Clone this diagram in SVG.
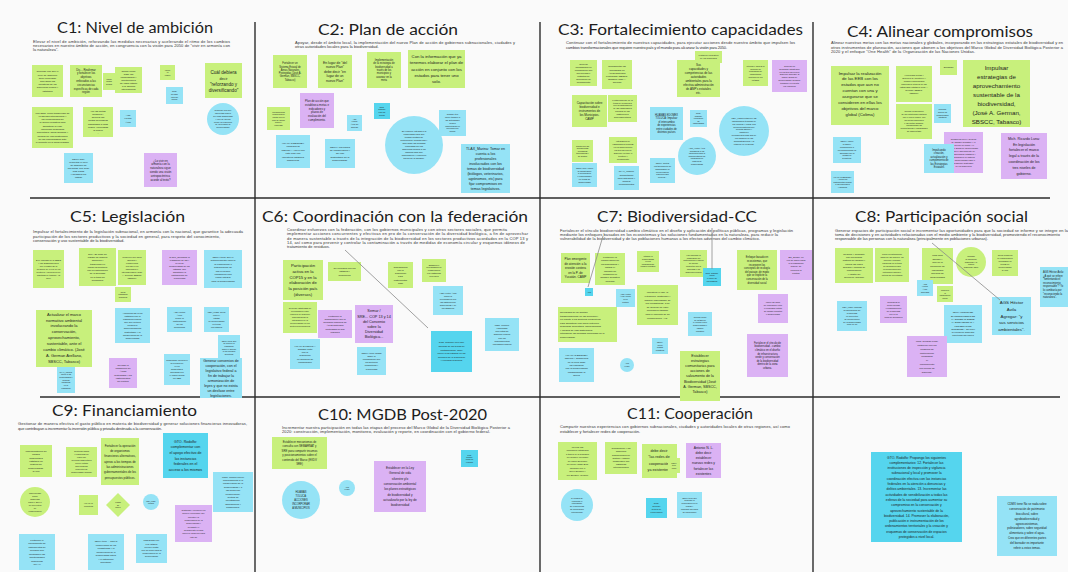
<svg xmlns="http://www.w3.org/2000/svg" width="1068" height="572" viewBox="0 0 1068 572">
<style>
.bg{fill:#fafafa}
.fr{stroke:#2b2b2b;stroke-width:1.4;fill:none}
.g{fill:#c8f07c}
.c{fill:#95e3f6}
.cd{fill:#55d5ee}
.p{fill:#dbb2f4}
.t{font-family:Lato,"Open Sans","Liberation Sans",sans-serif;font-size:16px;fill:#1d1d1d}
.d{font-family:"Liberation Sans",Arial,sans-serif;font-size:4px;fill:#333}
text.s{font-family:"Liberation Sans",Arial,sans-serif;fill:#1d1d1d;text-anchor:middle}
.cn{stroke:#8a8a8a;stroke-width:0.8;fill:none}
</style>
<rect class="bg" x="0" y="0" width="1068" height="572"/>
<g id="frames">
<line class="fr" x1="30" y1="198" x2="1050" y2="198"/>
<line class="fr" x1="40" y1="397" x2="1060" y2="397"/>
<line class="fr" x1="255" y1="22" x2="255" y2="572"/>
<line class="fr" x1="540" y1="22" x2="540" y2="572"/>
<line class="fr" x1="813" y1="22" x2="813" y2="572"/>
</g>

<g id="C1">
<text class="t" x="57" y="33" textLength="156" lengthAdjust="spacingAndGlyphs">C1: Nivel de ambición</text>
<text class="d"><tspan x="33" y="43" textLength="197">Elevar el nivel de ambición, reforzando las medidas necesarias y acelerando el ritmo de los cambios</tspan><tspan x="33" y="47" textLength="197">necesarios en nuestro ámbito de acción, en congruencia con la visión para 2050 de "vivir en armonía con</tspan><tspan x="33" y="51">la naturaleza".</tspan></text>
<g id="c1-n1"><rect class="g" x="32" y="65" width="31" height="32"/><text class="s" font-size="2.5"><tspan x="47.5" y="72.3">Coincido con que el</tspan><tspan x="47.5" dy="3.2">nivel de ambición</tspan><tspan x="47.5" dy="3.2">debe reforzarse</tspan><tspan x="47.5" dy="3.2">apoyando las</tspan><tspan x="47.5" dy="3.2">iniciativas de los</tspan><tspan x="47.5" dy="3.2">gobiernos locales y</tspan><tspan x="47.5" dy="3.2">estatales</tspan></text></g>
<g id="c1-n2"><rect class="g" x="70" y="65" width="32" height="32"/><text class="s" font-size="2.8"><tspan x="86" y="70.6">Dic... Reafirmar</tspan><tspan x="86" dy="3.8">y fortalecer los</tspan><tspan x="86" dy="3.8">objetivos</tspan><tspan x="86" dy="3.8">enfocados a las</tspan><tspan x="86" dy="3.8">circunstancias</tspan><tspan x="86" dy="3.8">específicas de cada</tspan><tspan x="86" dy="3.8">región</tspan></text></g>
<g id="c1-n3"><rect class="g" x="103" y="73" width="12" height="17"/><text class="s" font-size="2"><tspan x="109" y="79.6">Incluir</tspan><tspan x="109" dy="2.6">metas</tspan><tspan x="109" dy="2.6">locales</tspan></text></g>
<g id="c1-n4"><rect class="g" x="115" y="67" width="27" height="26"/><text class="s" font-size="2.5"><tspan x="128.5" y="71.6">Tomar como</tspan><tspan x="128.5" dy="3.1">base las</tspan><tspan x="128.5" dy="3.1">capacidades y</tspan><tspan x="128.5" dy="3.1">aportaciones</tspan><tspan x="128.5" dy="3.1">de cada estado</tspan><tspan x="128.5" dy="3.1">a la agenda</tspan><tspan x="128.5" dy="3.1">internacional</tspan></text></g>
<g id="c1-n5"><rect class="g" x="160" y="65" width="15" height="15"/><text class="s" font-size="2"><tspan x="167.5" y="70.6">Incluir</tspan><tspan x="167.5" dy="2.6">la</tspan><tspan x="167.5" dy="2.6">región</tspan></text></g>
<g id="c1-n6"><rect class="c" x="166" y="87" width="17" height="17"/><text class="s" font-size="2"><tspan x="174.5" y="92.3">GTO:</tspan><tspan x="174.5" dy="2.6">Revisar</tspan><tspan x="174.5" dy="2.6">línea de</tspan><tspan x="174.5" dy="2.6">acción</tspan></text></g>
<g id="c1-n7"><rect class="g" x="205" y="63" width="37" height="35"/><text class="s" font-size="4.6"><tspan x="223.5" y="74">Cuál debiera</tspan><tspan x="223.5" dy="6" font-size="3.6">decir</tspan><tspan x="223.5" dy="6">"reforzando y</tspan><tspan x="223.5" dy="6">diversificando"</tspan></text></g>
<g id="c1-n8"><rect class="g" x="32" y="107" width="41" height="41"/><text class="s" font-size="2.5"><tspan x="52.5" y="113.5">Los ODS, como transversal de</tspan><tspan x="52.5" dy="3.3">la agenda internacional y</tspan><tspan x="52.5" dy="3.3">los compromisos de</tspan><tspan x="52.5" dy="3.3">la acción climática para</tspan><tspan x="52.5" dy="3.3">garantizar la vida.</tspan><tspan x="52.5" dy="3.3">Incorporar seguridad</tspan><tspan x="52.5" dy="3.3">alimentaria, salud humana y</tspan><tspan x="52.5" dy="3.3">medios de vida sostenibles</tspan><tspan x="52.5" dy="3.3">de las comunidades ante</tspan><tspan x="52.5" dy="3.3">el impacto en la biodiversidad.</tspan></text></g>
<g id="c1-n9"><rect class="g" x="83" y="107" width="30" height="30"/><text class="s" font-size="2.5"><tspan x="98" y="111.7">Ver las metas</tspan><tspan x="98" dy="3.2">globales y</tspan><tspan x="98" dy="3.2">generar las</tspan><tspan x="98" dy="3.2">metas necesarias</tspan><tspan x="98" dy="3.2">adaptadas a cada</tspan><tspan x="98" dy="3.2">región, vinculadas</tspan><tspan x="98" dy="3.2">al marco</tspan><tspan x="98" dy="3.2">...</tspan></text></g>
<g id="c1-n10"><rect class="c" x="120" y="110" width="16" height="17"/><text class="s" font-size="2.5"><tspan x="128" y="116.3">Ags</tspan><tspan x="128" dy="3.1">Héctor</tspan><tspan x="128" dy="3.1">Ávila</tspan></text></g>
<g id="c1-n11"><circle class="c" cx="223" cy="119" r="16"/><text class="s" font-size="2.2"><tspan x="223" y="111.4">Coincido con que</tspan><tspan x="223" dy="2.8">las metas deben</tspan><tspan x="223" dy="2.8">ser más ambiciosas</tspan><tspan x="223" dy="2.8">y que se pueda</tspan><tspan x="223" dy="2.8">medir la reducción</tspan><tspan x="223" dy="2.8">de la pérdida de</tspan><tspan x="223" dy="2.8">biodiversidad</tspan></text></g>
<g id="c1-n12"><rect class="c" x="64" y="153" width="29" height="30"/><text class="s" font-size="2.4"><tspan x="78.5" y="159.5">CDMX dice:</tspan><tspan x="78.5" dy="3.1">reorientar el nivel</tspan><tspan x="78.5" dy="3.1">de ambición de</tspan><tspan x="78.5" dy="3.1">las metas, que sean</tspan><tspan x="78.5" dy="3.1">más claras</tspan><tspan x="78.5" dy="3.1">y medibles por</tspan><tspan x="78.5" dy="3.1">estado</tspan></text></g>
<g id="c1-n13"><rect class="p" x="144" y="153" width="33" height="34"/><text class="s" font-size="2.8"><tspan x="160.5" y="161.5">¿Lo vivir en</tspan><tspan x="160.5" dy="3.8">armonía con la</tspan><tspan x="160.5" dy="3.8">naturaleza sigue</tspan><tspan x="160.5" dy="3.8">siendo una visión</tspan><tspan x="160.5" dy="3.8">antropocéntrica</tspan><tspan x="160.5" dy="3.8">acorde al texto?</tspan></text></g>
</g>

<g id="C2">
<text class="t" x="318" y="35" textLength="140" lengthAdjust="spacingAndGlyphs">C2: Plan de acción</text>
<text class="d"><tspan x="295" y="44" textLength="220">Apoyar, desde el ámbito local, la implementación del nuevo Plan de acción de gobiernos subnacionales, ciudades y</tspan><tspan x="295" y="48">otras autoridades locales para la biodiversidad.</tspan></text>
<g id="c2-n1"><rect class="g" x="273" y="55" width="34" height="33"/><text class="s" font-size="2.6"><tspan x="290" y="64.2">Fortalecer un</tspan><tspan x="290" dy="3.3">Sistema Estatal de</tspan><tspan x="290" dy="3.3">Áreas Naturales</tspan><tspan x="290" dy="3.3">Protegidas (José A.</tspan><tspan x="290" dy="3.3">German, SBSCC,</tspan><tspan x="290" dy="3.3">Tabasco)</tspan></text></g>
<g id="c2-n2"><rect class="g" x="318" y="55" width="34" height="33"/><text class="s" font-size="3.4"><tspan x="335" y="63.5">En lugar de "del</tspan><tspan x="335" dy="4.6">nuevo Plan"</tspan><tspan x="335" dy="4.6">debe decir "en</tspan><tspan x="335" dy="4.6">lugar de un</tspan><tspan x="335" dy="4.6">nuevo Plan"</tspan></text></g>
<g id="c2-n3"><rect class="g" x="367" y="52" width="34" height="36"/><text class="s" font-size="2.6"><tspan x="384" y="60.7">Implementación</tspan><tspan x="384" dy="3.4">de la estrategia de</tspan><tspan x="384" dy="3.4">biodiversidad a</tspan><tspan x="384" dy="3.4">través de los</tspan><tspan x="384" dy="3.4">municipios y</tspan><tspan x="384" dy="3.4">avanzar en la</tspan><tspan x="384" dy="3.4">meta</tspan></text></g>
<g id="c2-n4"><rect class="g" x="408" y="50" width="57" height="38"/><text class="s" font-size="4.3"><tspan x="436.5" y="58">Con la información que ya</tspan><tspan x="436.5" dy="6.3">tenemos elaborar el plan de</tspan><tspan x="436.5" dy="6.3">acción en conjunto con los</tspan><tspan x="436.5" dy="6.3">estados para tener uno</tspan><tspan x="436.5" dy="6.3">solo.</tspan></text></g>
<g id="c2-n5"><rect class="g" x="267" y="107" width="23" height="23"/><text class="s" font-size="2"><tspan x="278.5" y="112.7">Los gobiernos</tspan><tspan x="278.5" dy="2.6">locales deben</tspan><tspan x="278.5" dy="2.6">contar con un</tspan><tspan x="278.5" dy="2.6">plan de acción</tspan><tspan x="278.5" dy="2.6">propio y</tspan><tspan x="278.5" dy="2.6">vinculado</tspan></text></g>
<g id="c2-n6"><rect class="p" x="300" y="93" width="34" height="35"/><text class="s" font-size="2.8"><tspan x="317" y="102.3">Plan de acción que</tspan><tspan x="317" dy="3.7">establezca metas e</tspan><tspan x="317" dy="3.7">indicadores y</tspan><tspan x="317" dy="3.7">plazos de</tspan><tspan x="317" dy="3.7">evaluación del</tspan><tspan x="317" dy="3.7">cumplimiento.</tspan></text></g>
<g id="c2-n7"><rect class="c" x="347" y="115" width="15" height="16"/><text class="s" font-size="2"><tspan x="354.5" y="119.8">Ags</tspan><tspan x="354.5" dy="2.6">Héctor</tspan><tspan x="354.5" dy="2.6">Ávila: de</tspan><tspan x="354.5" dy="2.6">acuerdo</tspan></text></g>
<g id="c2-n8"><rect class="cd" x="374" y="103" width="16" height="16"/><text class="s" font-size="2"><tspan x="382" y="107.8">GTO.</tspan><tspan x="382" dy="2.6">Rodolfo:</tspan><tspan x="382" dy="2.6">Plan de</tspan><tspan x="382" dy="2.6">acción</tspan></text></g>
<g id="c2-n9"><rect class="c" x="276" y="135" width="34" height="33"/><text class="s" font-size="2.5"><tspan x="293" y="143.9">HUAMAS EDOMEX</tspan><tspan x="293" dy="3.4">MUNICIPIO</tspan><tspan x="293" dy="3.4">TOLUCA: Apoyo con</tspan><tspan x="293" dy="3.4">este plan con</tspan><tspan x="293" dy="3.4">incentivos estatales</tspan><tspan x="293" dy="3.4">financieros</tspan></text></g>
<g id="c2-n10"><rect class="c" x="325" y="139" width="30" height="29"/><text class="s" font-size="2.5"><tspan x="340" y="147.6">CDMX: los planes</tspan><tspan x="340" dy="3.4">de conservación y</tspan><tspan x="340" dy="3.4">del uso</tspan><tspan x="340" dy="3.4">sustentable de la</tspan><tspan x="340" dy="3.4">biodiversidad.</tspan></text></g>
<g id="c2-n11"><circle class="c" cx="414" cy="145" r="29"/><text class="s" font-size="2.3"><tspan x="414" y="132.3">Se requiere integrar a la</tspan><tspan x="414" dy="3">comunidad para que</tspan><tspan x="414" dy="3">tengan sentido de</tspan><tspan x="414" dy="3">pertenencia, permitiendo y</tspan><tspan x="414" dy="3">apoyando las medidas</tspan><tspan x="414" dy="3">realizadas por los</tspan><tspan x="414" dy="3">gobiernos locales a los</tspan><tspan x="414" dy="3">mismos para que</tspan><tspan x="414" dy="3">comuniquen y refuercen</tspan><tspan x="414" dy="3">través de la difusión.</tspan></text></g>
<g id="c2-n12"><rect class="c" x="439" y="110" width="27" height="26"/><text class="s" font-size="2.1"><tspan x="452.5" y="115.3">Ciudad: Itzel</tspan><tspan x="452.5" dy="2.8">Incluir también a</tspan><tspan x="452.5" dy="2.8">las autoridades</tspan><tspan x="452.5" dy="2.8">locales</tspan><tspan x="452.5" dy="2.8">comunitarias en</tspan><tspan x="452.5" dy="2.8">los planes de</tspan><tspan x="452.5" dy="2.8">acción</tspan></text></g>
<g id="c2-n13"><rect class="c" x="461" y="144" width="49" height="49"/><text class="s" font-size="3.6"><tspan x="485.5" y="149.8">TLAX_Marina: Tomar en</tspan><tspan x="485.5" dy="5">cuenta a los</tspan><tspan x="485.5" dy="5">profesionales</tspan><tspan x="485.5" dy="5">involucrados con los</tspan><tspan x="485.5" dy="5">temas de biodiversidad</tspan><tspan x="485.5" dy="5">(biólogos, veterinarios,</tspan><tspan x="485.5" dy="5">agrónomos, etc) para</tspan><tspan x="485.5" dy="5">fijar compromisos en</tspan><tspan x="485.5" dy="5">temas legislativos.</tspan></text></g>
</g>

<g id="C3">
<text class="t" x="558" y="35" textLength="245" lengthAdjust="spacingAndGlyphs">C3: Fortalecimiento capacidades</text>
<text class="d"><tspan x="566" y="44" textLength="229">Continuar con el fortalecimiento de nuestras capacidades, para ejecutar acciones desde nuestro ámbito que impulsen los</tspan><tspan x="566" y="49" textLength="161">cambios transformacionales que requiere nuestro país y el mundo para alcanzar la visión para 2050.</tspan></text>
<g id="c3-n1"><rect class="g" x="570" y="60" width="27" height="26"/><text class="s" font-size="2.3"><tspan x="583.5" y="64.8">Generar</tspan><tspan x="583.5" dy="3">capacidades en</tspan><tspan x="583.5" dy="3">coordinación con</tspan><tspan x="583.5" dy="3">las ciencias e</tspan><tspan x="583.5" dy="3">institutos de</tspan><tspan x="583.5" dy="3">generación de</tspan><tspan x="583.5" dy="3">conocimiento</tspan></text></g>
<g id="c3-n2"><rect class="g" x="602" y="60" width="30" height="29"/><text class="s" font-size="2.4"><tspan x="617" y="67.3">Reglamentar las</tspan><tspan x="617" dy="3.2">prioridades en</tspan><tspan x="617" dy="3.2">Áreas Naturales</tspan><tspan x="617" dy="3.2">Protegidas (SBSCC,</tspan><tspan x="617" dy="3.2">Tabasco) José A.</tspan><tspan x="617" dy="3.2">German</tspan></text></g>
<g id="c3-n3"><rect class="g" x="572" y="95" width="35" height="32"/><text class="s" font-size="3"><tspan x="589.5" y="104">Capacitación sobre</tspan><tspan x="589.5" dy="4">biodiversidad e</tspan><tspan x="589.5" dy="4">instrumentos de</tspan><tspan x="589.5" dy="4">los Municipios.</tspan><tspan x="589.5" dy="4">CAMP</tspan></text></g>
<g id="c3-n4"><rect class="g" x="608" y="95" width="29" height="27"/><text class="s" font-size="2.2"><tspan x="622.5" y="100.6">Fortalecimiento de la</tspan><tspan x="622.5" dy="2.9">toma de decisiones</tspan><tspan x="622.5" dy="2.9">con la participación</tspan><tspan x="622.5" dy="2.9">de las capacidades</tspan><tspan x="622.5" dy="2.9">sociales de las</tspan><tspan x="622.5" dy="2.9">instituciones</tspan><tspan x="622.5" dy="2.9">gubernamentales</tspan></text></g>
<g id="c3-n5"><rect class="g" x="572" y="140" width="21" height="22"/><text class="s" font-size="2"><tspan x="582.5" y="146.5">Contar con las</tspan><tspan x="582.5" dy="2.6">herramientas</tspan><tspan x="582.5" dy="2.6">necesarias</tspan><tspan x="582.5" dy="2.6">tecnológicas y</tspan><tspan x="582.5" dy="2.6">de gestión</tspan></text></g>
<g id="c3-n6"><rect class="g" x="609" y="137" width="28" height="26"/><text class="s" font-size="2.2"><tspan x="623" y="142.1">Integración de</tspan><tspan x="623" dy="2.9">capacidades técnicas</tspan><tspan x="623" dy="2.9">en los gobiernos de</tspan><tspan x="623" dy="2.9">los tres niveles de</tspan><tspan x="623" dy="2.9">gobierno en todo el</tspan><tspan x="623" dy="2.9">territorio y</tspan><tspan x="623" dy="2.9">presupuesto</tspan></text></g>
<g id="c3-n7"><rect class="c" x="572" y="163" width="25" height="24"/><text class="s" font-size="2.1"><tspan x="584.5" y="168.7">CDMX dice: Incluir</tspan><tspan x="584.5" dy="2.8">la capacitación</tspan><tspan x="584.5" dy="2.8">a funcionarios</tspan><tspan x="584.5" dy="2.8">y comunidades</tspan><tspan x="584.5" dy="2.8">en temas de</tspan><tspan x="584.5" dy="2.8">biodiversidad</tspan></text></g>
<g id="c3-n8"><rect class="c" x="614" y="166" width="25" height="24"/><text class="s" font-size="2.4"><tspan x="626.5" y="172.4">TLAX_Marina:</tspan><tspan x="626.5" dy="3.2">Capacitación</tspan><tspan x="626.5" dy="3.2">para actualizar y</tspan><tspan x="626.5" dy="3.2">mejorar</tspan><tspan x="626.5" dy="3.2">conocimientos</tspan></text></g>
<g id="c3-n9"><rect class="g" x="695" y="51" width="27" height="12"/><text class="s" font-size="2.2"><tspan x="708.5" y="56.4">Fortalecer la gestión</tspan><tspan x="708.5" dy="2.9">de los municipios</tspan></text></g>
<g id="c3-n10"><rect class="g" x="677" y="60" width="43" height="37"/><text class="s" font-size="3"><tspan x="698.5" y="65.5">Sus</tspan><tspan x="698.5" dy="4">capacidades y</tspan><tspan x="698.5" dy="4">competencias de las</tspan><tspan x="698.5" dy="4">autoridades</tspan><tspan x="698.5" dy="4">ambientales para la</tspan><tspan x="698.5" dy="4">efectiva administración</tspan><tspan x="698.5" dy="4">de ANP's estatales</tspan><tspan x="698.5" dy="4">etc.</tspan></text></g>
<g id="c3-n11"><rect class="c" x="650" y="107" width="33" height="33"/><text class="s" font-size="2.6"><tspan x="666.5" y="115.7">HUAMAS EDOMEX</tspan><tspan x="666.5" dy="3.5">TOLUCA: Impulsar</tspan><tspan x="666.5" dy="3.5">el intercambio</tspan><tspan x="666.5" dy="3.5">de experiencias</tspan><tspan x="666.5" dy="3.5">entre ciudades de</tspan><tspan x="666.5" dy="3.5">distintos países</tspan></text></g>
<g id="c3-n12"><rect class="c" x="690" y="110" width="17" height="17"/><text class="s" font-size="2"><tspan x="698.5" y="114">GTO.</tspan><tspan x="698.5" dy="2.6">Rodolfo:</tspan><tspan x="698.5" dy="2.6">Formación</tspan><tspan x="698.5" dy="2.6">de</tspan><tspan x="698.5" dy="2.6">capacidades</tspan></text></g>
<g id="c3-n13"><rect class="c" x="650" y="158" width="25" height="25"/><text class="s" font-size="2.1"><tspan x="662.5" y="164.2">CDMX: Contar</tspan><tspan x="662.5" dy="2.8">Fortalecimiento de</tspan><tspan x="662.5" dy="2.8">capacidades en</tspan><tspan x="662.5" dy="2.8">los servidores</tspan><tspan x="662.5" dy="2.8">públicos para</tspan><tspan x="662.5" dy="2.8">generar...</tspan></text></g>
<g id="c3-n14"><circle class="c" cx="697" cy="156" r="19"/><text class="s" font-size="2"><tspan x="697" y="148.9">AGS_Hector Ávila:</tspan><tspan x="697" dy="2.6">Considerar a los</tspan><tspan x="697" dy="2.6">municipios para la</tspan><tspan x="697" dy="2.6">implementación de</tspan><tspan x="697" dy="2.6">programas en</tspan><tspan x="697" dy="2.6">materia de</tspan><tspan x="697" dy="2.6">biodiversidad</tspan></text></g>
<g id="c3-n15"><circle class="c" cx="744" cy="131" r="25"/><text class="s" font-size="2.2"><tspan x="744" y="118.8">MEX_KIDS Fortalecer las</tspan><tspan x="744" dy="2.9">capacidades técnicas de</tspan><tspan x="744" dy="2.9">los equipos y lograr una</tspan><tspan x="744" dy="2.9">memoria histórica que</tspan><tspan x="744" dy="2.9">permita asumir y</tspan><tspan x="744" dy="2.9">mantener</tspan><tspan x="744" dy="2.9">permanencia más allá de</tspan><tspan x="744" dy="2.9">los cambios en las</tspan><tspan x="744" dy="2.9">administraciones y la</tspan><tspan x="744" dy="2.9">rotación de personal.</tspan></text></g>
<g id="c3-n16"><rect class="g" x="743" y="60" width="25" height="26"/><text class="s" font-size="2.1"><tspan x="755.5" y="66.7">Integrar y apoyar la</tspan><tspan x="755.5" dy="2.8">creación de</tspan><tspan x="755.5" dy="2.8">programas de</tspan><tspan x="755.5" dy="2.8">capacitación</tspan><tspan x="755.5" dy="2.8">continua en los</tspan><tspan x="755.5" dy="2.8">estados</tspan></text></g>
<g id="c3-n17"><rect class="p" x="772" y="60" width="35" height="32"/><text class="s" font-size="2.2"><tspan x="789.5" y="66.7">Generar un</tspan><tspan x="789.5" dy="2.9">programa estratégico</tspan><tspan x="789.5" dy="2.9">en los tres niveles de</tspan><tspan x="789.5" dy="2.9">gobierno alineado al</tspan><tspan x="789.5" dy="2.9">marco global de</tspan><tspan x="789.5" dy="2.9">biodiversidad (Colima)</tspan><tspan x="789.5" dy="2.9">tomando en cuenta</tspan><tspan x="789.5" dy="2.9">los enfoques</tspan></text></g>
</g>

<g id="C4">
<text class="t" x="847" y="37" textLength="186" lengthAdjust="spacingAndGlyphs">C4: Alinear compromisos</text>
<text class="d"><tspan x="831" y="44" textLength="232">Alinear nuestras metas con las metas nacionales y globales, incorporando en las estrategias estatales de biodiversidad y en</tspan><tspan x="831" y="48.5" textLength="232">otros instrumentos de planeación, acciones que abonen a los objetivos del Marco Global de Diversidad Biológica Posterior a</tspan><tspan x="831" y="53" textLength="144">2020 y el enfoque "One Health" de la Organización de las Naciones Unidas.</tspan></text>
<g id="c4-n1"><rect class="g" x="831" y="66" width="58" height="59"/><text class="s" font-size="4.3"><tspan x="860" y="74.5">Impulsar la realización</tspan><tspan x="860" dy="5.9">de las EEB con los</tspan><tspan x="860" dy="5.9">estados que aun no</tspan><tspan x="860" dy="5.9">cuentan con una y</tspan><tspan x="860" dy="5.9">asegurarse que se</tspan><tspan x="860" dy="5.9">consideren en ellas los</tspan><tspan x="860" dy="5.9">objetivos del marco</tspan><tspan x="860" dy="5.9">global (Colima)</tspan></text></g>
<g id="c4-n2"><rect class="g" x="896" y="66" width="36" height="36"/><text class="s" font-size="2.2"><tspan x="914" y="76.1">Homologar metas y</tspan><tspan x="914" dy="2.9">acciones de monitoreo y</tspan><tspan x="914" dy="2.9">cumplir compromisos</tspan><tspan x="914" dy="2.9">nacionales a través de las</tspan><tspan x="914" dy="2.9">estrategias estatales (José A.</tspan><tspan x="914" dy="2.9">German, SBSCC,</tspan><tspan x="914" dy="2.9">Tabasco)</tspan></text></g>
<g id="c4-n3"><rect class="g" x="896" y="104" width="36" height="35"/><text class="s" font-size="2.1"><tspan x="914" y="112.4">Revisar la alineación</tspan><tspan x="914" dy="2.8">de las estrategias estatales</tspan><tspan x="914" dy="2.8">con el nuevo marco, con</tspan><tspan x="914" dy="2.8">las metas nacionales</tspan><tspan x="914" dy="2.8">y las metas globales,</tspan><tspan x="914" dy="2.8">considerando las</tspan><tspan x="914" dy="2.8">circunstancias y capacidades</tspan><tspan x="914" dy="2.8">de cada estado</tspan></text></g>
<g id="c4-n4"><rect class="c" x="934" y="104" width="17" height="19"/><text class="s" font-size="2"><tspan x="942.5" y="110.3">Tlaxcala:</tspan><tspan x="942.5" dy="2.6">alinear los</tspan><tspan x="942.5" dy="2.6">compromisos</tspan><tspan x="942.5" dy="2.6">estatales</tspan></text></g>
<g id="c4-n5"><rect class="g" x="940" y="60" width="17" height="15"/><text class="s" font-size="2.5"><tspan x="948.5" y="68.4">Durango</tspan></text></g>
<g id="c4-n6"><rect class="g" x="963" y="60" width="67" height="67"/><text class="s" font-size="6.2"><tspan x="996.5" y="69.5">Impulsar</tspan><tspan x="996.5" dy="9">estrategias de</tspan><tspan x="996.5" dy="9">aprovechamiento</tspan><tspan x="996.5" dy="9">sustentable de la</tspan><tspan x="996.5" dy="9">biodiversidad,</tspan><tspan x="996.5" dy="9">(José A. German,</tspan><tspan x="996.5" dy="9">SBSCC, Tabasco)</tspan></text></g>
<g id="c4-n7"><rect class="c" x="833" y="137" width="28" height="26"/><text class="s" font-size="2.1"><tspan x="847" y="142.3">CDMX: Incluir</tspan><tspan x="847" dy="2.8">la CDMX</tspan><tspan x="847" dy="2.8">cumplimiento a</tspan><tspan x="847" dy="2.8">los compromisos ya</tspan><tspan x="847" dy="2.8">asumidos por la</tspan><tspan x="847" dy="2.8">ciudad en</tspan><tspan x="847" dy="2.8">la materia.</tspan></text></g>
<g id="c4-n8"><rect class="c" x="831" y="171" width="23" height="22"/><text class="s" font-size="2"><tspan x="842.5" y="177.5">HUAMAS EDOMEX:</tspan><tspan x="842.5" dy="2.6">Alinear los</tspan><tspan x="842.5" dy="2.6">instrumentos locales</tspan><tspan x="842.5" dy="2.6">a los nacionales</tspan><tspan x="842.5" dy="2.6">y globales</tspan></text></g>
<g id="c4-n9"><rect class="p" x="944" y="132" width="39" height="41"/><text class="s" font-size="2.2"><tspan x="963.5" y="139.8">Considerar la Ley General</tspan><tspan x="963.5" dy="3">de Cambio Climático y el</tspan><tspan x="963.5" dy="3">Acuerdo de París y el</tspan><tspan x="963.5" dy="3">marco global de biodiversidad</tspan><tspan x="963.5" dy="3">para el alineamiento de</tspan><tspan x="963.5" dy="3">compromisos estatales y</tspan><tspan x="963.5" dy="3">municipales en materia</tspan><tspan x="963.5" dy="3">de biodiversidad para el</tspan><tspan x="963.5" dy="3">desarrollo sostenible</tspan><tspan x="963.5" dy="3">de los gobiernos</tspan></text></g>
<g id="c4-n10"><rect class="c" x="924" y="144" width="30" height="29"/><text class="s" font-size="2.6"><tspan x="939" y="150.9">Impulsando</tspan><tspan x="939" dy="3.4">creación,</tspan><tspan x="939" dy="3.4">actualización y</tspan><tspan x="939" dy="3.4">cumplimiento de</tspan><tspan x="939" dy="3.4">las Estrategias</tspan><tspan x="939" dy="3.4">Estatales</tspan></text></g>
<g id="c4-n11"><rect class="p" x="1001" y="133" width="46" height="46"/><text class="s" font-size="3.6"><tspan x="1024" y="139.6">Mich. Ricardo Luna:</tspan><tspan x="1024" dy="5.9">En legislación</tspan><tspan x="1024" dy="5.9">fortalecer el marco</tspan><tspan x="1024" dy="5.9">legal a través de la</tspan><tspan x="1024" dy="5.9">coordinación de los</tspan><tspan x="1024" dy="5.9">tres niveles de</tspan><tspan x="1024" dy="5.9">gobierno.</tspan></text></g>
</g>

<g id="C5">
<text class="t" x="70" y="222" textLength="115" lengthAdjust="spacingAndGlyphs">C5: Legislación</text>
<text class="d"><tspan x="33" y="233" textLength="210">Impulsar el fortalecimiento de la legislación subnacional, en armonía con la nacional, que garantice la adecuada</tspan><tspan x="33" y="237.5" textLength="187">participación de los sectores productivos y la sociedad en general, para respeto del conocimiento,</tspan><tspan x="33" y="242">conservación y uso sustentable de la biodiversidad.</tspan></text>
<g id="c5-n1"><rect class="g" x="33" y="250" width="31" height="38"/><text class="s" font-size="2.2"><tspan x="48.5" y="260.8">B.P. Impulsar de la SSDS</tspan><tspan x="48.5" dy="3">y las Organizaciones</tspan><tspan x="48.5" dy="3">que construyan la</tspan><tspan x="48.5" dy="3">creación de leyes en los</tspan><tspan x="48.5" dy="3">sectores y promoción de</tspan><tspan x="48.5" dy="3">prácticas de turismo. (Q</tspan><tspan x="48.5" dy="3">Roo)</tspan></text></g>
<g id="c5-n2"><rect class="g" x="79" y="248" width="37" height="38"/><text class="s" font-size="2.4"><tspan x="97.5" y="254.6">Dec.: Se debe de</tspan><tspan x="97.5" dy="3.3">legislar de manera</tspan><tspan x="97.5" dy="3.3">armónica y</tspan><tspan x="97.5" dy="3.3">transversal en</tspan><tspan x="97.5" dy="3.3">todos los sectores</tspan><tspan x="97.5" dy="3.3">con la participación</tspan><tspan x="97.5" dy="3.3">de la sociedad</tspan><tspan x="97.5" dy="3.3">en la toma de</tspan><tspan x="97.5" dy="3.3">decisiones</tspan></text></g>
<g id="c5-n3"><rect class="g" x="118" y="250" width="28" height="35"/><text class="s" font-size="2.2"><tspan x="132" y="257.8">Promover que haya</tspan><tspan x="132" dy="3">armonía y</tspan><tspan x="132" dy="3">congruencia</tspan><tspan x="132" dy="3">con las leyes</tspan><tspan x="132" dy="3">nacionales e</tspan><tspan x="132" dy="3">internacionales (José</tspan><tspan x="132" dy="3">A. German, SBSCC,</tspan><tspan x="132" dy="3">Tabasco)</tspan></text></g>
<g id="c5-n4"><rect class="g" x="115" y="287" width="16" height="15"/><text class="s" font-size="2"><tspan x="123" y="292.6">Crear</tspan><tspan x="123" dy="2.6">legislación</tspan><tspan x="123" dy="2.6">municipal</tspan></text></g>
<g id="c5-n5"><rect class="p" x="162" y="250" width="35" height="35"/><text class="s" font-size="2.3"><tspan x="179.5" y="257.5">Q.Roo_Coordinar la</tspan><tspan x="179.5" dy="3.1">legislación de las y</tspan><tspan x="179.5" dy="3.1">leyes de</tspan><tspan x="179.5" dy="3.1">biodiversidad de los</tspan><tspan x="179.5" dy="3.1">estados, que</tspan><tspan x="179.5" dy="3.1">garanticen la</tspan><tspan x="179.5" dy="3.1">participación de</tspan><tspan x="179.5" dy="3.1">la sociedad</tspan></text></g>
<g id="c5-n6"><rect class="c" x="204" y="250" width="38" height="38"/><text class="s" font-size="2.5"><tspan x="223" y="258">CDMX tiene que el</tspan><tspan x="223" dy="3.4">fortalecimiento incluya</tspan><tspan x="223" dy="3.4">la elaboración o</tspan><tspan x="223" dy="3.4">actualización de</tspan><tspan x="223" dy="3.4">las leyes que</tspan><tspan x="223" dy="3.4">consideren una</tspan><tspan x="223" dy="3.4">visión integral</tspan><tspan x="223" dy="3.4">para la biodiversidad</tspan></text></g>
<g id="c5-n7"><rect class="g" x="36" y="310" width="56" height="57"/><text class="s" font-size="4"><tspan x="64" y="315.7">Actualizar el marco</tspan><tspan x="64" dy="5.85">normativo ambiental</tspan><tspan x="64" dy="5.85">involucrando la</tspan><tspan x="64" dy="5.85">conservación,</tspan><tspan x="64" dy="5.85">aprovechamiento,</tspan><tspan x="64" dy="5.85">sustentable, ante el</tspan><tspan x="64" dy="5.85">cambio climático. (José</tspan><tspan x="64" dy="5.85">A. German Arellano,</tspan><tspan x="64" dy="5.85">SBSCC, Tabasco)</tspan></text></g>
<g id="c5-n8"><rect class="c" x="57" y="367" width="18" height="26"/><text class="s" font-size="2"><tspan x="66" y="372.6">TLAX_Marina:</tspan><tspan x="66" dy="2.7">Incluir a las</tspan><tspan x="66" dy="2.7">comunidades y</tspan><tspan x="66" dy="2.7">pueblos</tspan><tspan x="66" dy="2.7">indígenas</tspan><tspan x="66" dy="2.7">en la</tspan><tspan x="66" dy="2.7">legislación</tspan></text></g>
<g id="c5-n9"><rect class="c" x="115" y="308" width="35" height="35"/><text class="s" font-size="2.3"><tspan x="132.5" y="313.9">Armonizar las leyes</tspan><tspan x="132.5" dy="3.1">estatales con la</tspan><tspan x="132.5" dy="3.1">legislación federal,</tspan><tspan x="132.5" dy="3.1">que den certeza</tspan><tspan x="132.5" dy="3.1">jurídica al</tspan><tspan x="132.5" dy="3.1">aprovechamiento</tspan><tspan x="132.5" dy="3.1">sustentable y la</tspan><tspan x="132.5" dy="3.1">conservación de la</tspan><tspan x="132.5" dy="3.1">biodiversidad</tspan></text></g>
<g id="c5-n10"><rect class="c" x="167" y="307" width="25" height="25"/><text class="s" font-size="2.3"><tspan x="179.5" y="312.8">Ags Héctor</tspan><tspan x="179.5" dy="3">Ávila:</tspan><tspan x="179.5" dy="3">Incluir la</tspan><tspan x="179.5" dy="3">participación</tspan><tspan x="179.5" dy="3">de los</tspan><tspan x="179.5" dy="3">municipios</tspan></text></g>
<g id="c5-n11"><rect class="c" x="204" y="307" width="25" height="25"/><text class="s" font-size="2.2"><tspan x="216.5" y="313">MEX_KIDS: Crear</tspan><tspan x="216.5" dy="2.9">una ley</tspan><tspan x="216.5" dy="2.9">estatal</tspan><tspan x="216.5" dy="2.9">de biodiversidad</tspan><tspan x="216.5" dy="2.9">en todos</tspan><tspan x="216.5" dy="2.9">los estados</tspan></text></g>
<g id="c5-n12"><rect class="c" x="218" y="335" width="22" height="25"/><text class="s" font-size="2"><tspan x="229" y="341.5">CDMX tiene que</tspan><tspan x="229" dy="2.7">se incluya la</tspan><tspan x="229" dy="2.7">legislación</tspan><tspan x="229" dy="2.7">sobre el acceso</tspan><tspan x="229" dy="2.7">a los recursos</tspan><tspan x="229" dy="2.7">genéticos</tspan></text></g>
<g id="c5-n13"><rect class="p" x="109" y="358" width="28" height="30"/><text class="s" font-size="2.5"><tspan x="123" y="365.7">Revisar la</tspan><tspan x="123" dy="3.3">legislación de</tspan><tspan x="123" dy="3.3">Áreas</tspan><tspan x="123" dy="3.3">protegidas y los</tspan><tspan x="123" dy="3.3">instrumentos</tspan><tspan x="123" dy="3.3">de política</tspan></text></g>
<g id="c5-n14"><rect class="c" x="164" y="354" width="26" height="31"/><text class="s" font-size="2.2"><tspan x="177" y="361.3">Michoacán: Promover</tspan><tspan x="177" dy="3">la reforma de</tspan><tspan x="177" dy="3">leyes</tspan><tspan x="177" dy="3">ambientales</tspan><tspan x="177" dy="3">alineadas con</tspan><tspan x="177" dy="3">el marco global</tspan><tspan x="177" dy="3">del CBD</tspan></text></g>
<g id="c5-n15"><rect class="c" x="200" y="358" width="42" height="40"/><text class="s" font-size="3.6"><tspan x="221" y="362.2">Generar convenios de</tspan><tspan x="221" dy="4.9">cooperación, con el</tspan><tspan x="221" dy="4.9">legislativo federal a</tspan><tspan x="221" dy="4.9">fin de trabajar la</tspan><tspan x="221" dy="4.9">armonización de</tspan><tspan x="221" dy="4.9">leyes y que no exista</tspan><tspan x="221" dy="4.9">un desfase entre</tspan><tspan x="221" dy="4.9">legislaciones.</tspan></text></g>
</g>

<g id="C6">
<text class="t" x="262" y="222" textLength="266" lengthAdjust="spacingAndGlyphs">C6: Coordinación con la federación</text>
<text class="d"><tspan x="287" y="231" textLength="220">Coordinar esfuerzos con la federación, con los gobiernos municipales y con otros sectores sociales, que permita</tspan><tspan x="287" y="235.3" textLength="241">implementar acciones concurrentes y efectivas en pro de la conservación de la diversidad biológica, a fin de aprovechar</tspan><tspan x="287" y="239.6" textLength="241">de manera sustentable a través de la integración de la biodiversidad en los sectores productivos acordados en la COP 13 y</tspan><tspan x="287" y="243.9" textLength="238">14, así como para prevenir y controlar la contaminación a través de medidas de economía circular y esquemas idóneos de</tspan><tspan x="287" y="248.2">tratamiento de residuos.</tspan></text>
<g id="c6-n1"><rect class="g" x="283" y="260" width="40" height="40"/><text class="s" font-size="4.2"><tspan x="303" y="267">Participación</tspan><tspan x="303" dy="5.8">activa en la</tspan><tspan x="303" dy="5.8">COP15 y en la</tspan><tspan x="303" dy="5.8">elaboración de</tspan><tspan x="303" dy="5.8">la posición país</tspan><tspan x="303" dy="5.8">(diversos)</tspan></text></g>
<g id="c6-n2"><rect class="g" x="328" y="262" width="33" height="19"/><text class="s" font-size="2.5"><tspan x="344.5" y="269.2">Se coordina con los</tspan><tspan x="344.5" dy="3.2">estados y</tspan><tspan x="344.5" dy="3.2">municipios</tspan></text></g>
<g id="c6-n3"><rect class="g" x="283" y="302" width="34" height="31"/><text class="s" font-size="2.2"><tspan x="300" y="309.3">Generar estrategias de</tspan><tspan x="300" dy="3">coordinación entre</tspan><tspan x="300" dy="3">órdenes de gobierno</tspan><tspan x="300" dy="3">para asegurar la</tspan><tspan x="300" dy="3">integración de la</tspan><tspan x="300" dy="3">biodiversidad en los</tspan><tspan x="300" dy="3">sectores productivos</tspan></text></g>
<g id="c6-n4"><rect class="p" x="318" y="310" width="34" height="28"/><text class="s" font-size="2.4"><tspan x="335" y="316.8">Fortalecer la</tspan><tspan x="335" dy="3.2">Coordinación con la</tspan><tspan x="335" dy="3.2">Comisión Nacional de</tspan><tspan x="335" dy="3.2">Áreas Naturales</tspan><tspan x="335" dy="3.2">Protegidas en sus</tspan><tspan x="335" dy="3.2">regiones</tspan></text></g>
<g id="c6-n5"><rect class="p" x="355" y="305" width="38" height="38"/><text class="s" font-size="3.8"><tspan x="374" y="312.3">Semar /</tspan><tspan x="374" dy="5.2">SRE... COP 13 y 14</tspan><tspan x="374" dy="5.2">del Convenio</tspan><tspan x="374" dy="5.2">sobre la</tspan><tspan x="374" dy="5.2">Diversidad</tspan><tspan x="374" dy="5.2">Biológica...</tspan></text></g>
<g id="c6-n6"><rect class="c" x="290" y="339" width="30" height="30"/><text class="s" font-size="2.4"><tspan x="305" y="346.8">HUAMAS TOLUCA:</tspan><tspan x="305" dy="3.2">Trabajar junto</tspan><tspan x="305" dy="3.2">con la</tspan><tspan x="305" dy="3.2">federación</tspan><tspan x="305" dy="3.2">en acciones de</tspan><tspan x="305" dy="3.2">coordinación</tspan></text></g>
<g id="c6-n7"><rect class="c" x="357" y="347" width="29" height="28"/><text class="s" font-size="2.3"><tspan x="371.5" y="354">CDMX: tiene dudas</tspan><tspan x="371.5" dy="3.1">sobre la</tspan><tspan x="371.5" dy="3.1">coordinación con</tspan><tspan x="371.5" dy="3.1">los sectores</tspan><tspan x="371.5" dy="3.1">productivos y</tspan><tspan x="371.5" dy="3.1">la sociedad</tspan></text></g>
<g id="c6-n8"><rect class="g" x="388" y="262" width="25" height="26"/><text class="s" font-size="2.4"><tspan x="400.5" y="267.8">Coordinación</tspan><tspan x="400.5" dy="3.2">con la</tspan><tspan x="400.5" dy="3.2">federación</tspan><tspan x="400.5" dy="3.2">para</tspan><tspan x="400.5" dy="3.2">instrumentar</tspan><tspan x="400.5" dy="3.2">COP</tspan></text></g>
<g id="c6-n9"><rect class="g" x="422" y="259" width="24" height="23"/><text class="s" font-size="2.2"><tspan x="434" y="265.5">Establecer</tspan><tspan x="434" dy="2.9">mecanismos de</tspan><tspan x="434" dy="2.9">colaboración</tspan><tspan x="434" dy="2.9">con instancias</tspan><tspan x="434" dy="2.9">federales</tspan></text></g>
<g id="c6-n10"><rect class="c" x="433" y="286" width="30" height="29"/><text class="s" font-size="2.2"><tspan x="448" y="293.8">AGS Héctor Ávila:</tspan><tspan x="448" dy="3">Incluir la</tspan><tspan x="448" dy="3">coordinación con</tspan><tspan x="448" dy="3">las instituciones</tspan><tspan x="448" dy="3">académicas y de</tspan><tspan x="448" dy="3">investigación</tspan></text></g>
<g id="c6-n11"><rect class="cd" x="431" y="331" width="41" height="41"/><text class="s" font-size="2.4"><tspan x="451.5" y="343.3">GTO. Rodolfo: creo que</tspan><tspan x="451.5" dy="3.6">además de los temas de</tspan><tspan x="451.5" dy="3.6">contaminación, debe</tspan><tspan x="451.5" dy="3.6">incluir a los estados en las</tspan><tspan x="451.5" dy="3.6">acciones de la federación</tspan><tspan x="451.5" dy="3.6">y recursos federales</tspan></text></g>
<g id="c6-n12"><rect class="c" x="485" y="318" width="34" height="33"/><text class="s" font-size="2.3"><tspan x="502" y="325.7">MOR. Mónica:</tspan><tspan x="502" dy="3.2">Homologar</tspan><tspan x="502" dy="3.2">proyectos de</tspan><tspan x="502" dy="3.2">gobierno federal</tspan><tspan x="502" dy="3.2">con los</tspan><tspan x="502" dy="3.2">ordenamientos</tspan><tspan x="502" dy="3.2">ecológicos locales</tspan></text></g>
</g>

<g id="C7">
<text class="t" x="597" y="222" textLength="160" lengthAdjust="spacingAndGlyphs">C7: Biodiversidad-CC</text>
<text class="d"><tspan x="560" y="232" textLength="233">Fortalecer el vínculo biodiversidad cambio climático en el diseño y aplicación de políticas públicas, programas y legislación</tspan><tspan x="560" y="236.2" textLength="218">mediante los enfoques basados en los ecosistemas y las soluciones fundamentadas en la naturaleza, para reducir la</tspan><tspan x="560" y="240.4" textLength="200">vulnerabilidad de la biodiversidad y de las poblaciones humanas a los efectos adversos del cambio climático.</tspan></text>
<g id="c7-n1"><rect class="g" x="561" y="253" width="29" height="30"/><text class="s" font-size="3.1"><tspan x="575.5" y="259.9">Plan emergente</tspan><tspan x="575.5" dy="4.6">de atención a la</tspan><tspan x="575.5" dy="4.6">erosión costera</tspan><tspan x="575.5" dy="4.6">en la P. de</tspan><tspan x="575.5" dy="4.6">Yucatán. CAMP</tspan></text></g>
<g id="c7-n2"><rect class="g" x="595" y="253" width="30" height="32"/><text class="s" font-size="2.5"><tspan x="610" y="258">Fortalecer la</tspan><tspan x="610" dy="3.4">conservación de</tspan><tspan x="610" dy="3.4">los humedales y</tspan><tspan x="610" dy="3.4">mitigar el</tspan><tspan x="610" dy="3.4">impacto de</tspan><tspan x="610" dy="3.4">mitigación al</tspan><tspan x="610" dy="3.4">Cambio Climático</tspan><tspan x="610" dy="3.4">(Colima)</tspan></text></g>
<g id="c7-n3"><rect class="cd" x="585" y="288" width="8" height="8"/><text class="s" font-size="1.8"><tspan x="589" y="292.6">AGS</tspan></text></g>
<g id="c7-n4"><rect class="g" x="637" y="251" width="22" height="21"/><text class="s" font-size="2"><tspan x="648" y="257">Integrar la</tspan><tspan x="648" dy="2.6">biodiversidad</tspan><tspan x="648" dy="2.6">en los</tspan><tspan x="648" dy="2.6">programas de</tspan><tspan x="648" dy="2.6">cambio climático</tspan></text></g>
<g id="c7-n5"><rect class="g" x="680" y="250" width="27" height="27"/><text class="s" font-size="2.1"><tspan x="693.5" y="255.8">Hay impulsar la</tspan><tspan x="693.5" dy="2.8">elaboración de</tspan><tspan x="693.5" dy="2.8">instrumentos y planes</tspan><tspan x="693.5" dy="2.8">de acción</tspan><tspan x="693.5" dy="2.8">conjuntos con la</tspan><tspan x="693.5" dy="2.8">sociedad y los</tspan><tspan x="693.5" dy="2.8">gobiernos locales</tspan></text></g>
<g id="c7-n6"><rect class="cd" x="703" y="268" width="18" height="18"/><text class="s" font-size="2"><tspan x="712" y="273.8">GTO. Rodolfo:</tspan><tspan x="712" dy="2.6">Incluir</tspan><tspan x="712" dy="2.6">el papel de</tspan><tspan x="712" dy="2.6">los bosques</tspan></text></g>
<g id="c7-n7"><rect class="g" x="737" y="250" width="40" height="40"/><text class="s" font-size="2.6"><tspan x="757" y="258.3">Enfoque basado en</tspan><tspan x="757" dy="3.6">ecosistemas, que</tspan><tspan x="757" dy="3.6">incorporen los</tspan><tspan x="757" dy="3.6">conceptos de ecología</tspan><tspan x="757" dy="3.6">del paisaje, de modo</tspan><tspan x="757" dy="3.6">que se explicite la</tspan><tspan x="757" dy="3.6">conservación de la</tspan><tspan x="757" dy="3.6">diversidad social</tspan></text></g>
<g id="c7-n8"><rect class="p" x="780" y="250" width="32" height="30"/><text class="s" font-size="2.3"><tspan x="796" y="257.8">BC_Sergio: en</tspan><tspan x="796" dy="3.2">vez de hacer lugar</tspan><tspan x="796" dy="3.2">a la legislación</tspan><tspan x="796" dy="3.2">federal, se</tspan><tspan x="796" dy="3.2">refuerza la</tspan><tspan x="796" dy="3.2">política</tspan></text></g>
<g id="c7-n9"><rect class="c" x="616" y="289" width="19" height="18"/><text class="s" font-size="2"><tspan x="625.5" y="294.8">AGS Héctor</tspan><tspan x="625.5" dy="2.6">Ávila: Incluir</tspan><tspan x="625.5" dy="2.6">en la</tspan><tspan x="625.5" dy="2.6">política</tspan></text></g>
<g id="c7-n10"><rect class="g" x="637" y="285" width="41" height="40"/><text class="s" font-size="2.5"><tspan x="657.5" y="293.3">Incentivar el uso, la</tspan><tspan x="657.5" dy="3.6">extracción, sostenible y</tspan><tspan x="657.5" dy="3.6">manejo responsable de</tspan><tspan x="657.5" dy="3.6">los ecosistemas, a fin</tspan><tspan x="657.5" dy="3.6">de generar un valor</tspan><tspan x="657.5" dy="3.6">económico tangible</tspan><tspan x="657.5" dy="3.6">para el fomento de su</tspan><tspan x="657.5" dy="3.6">conservación. Y.Q.</tspan></text></g>
<g id="c7-n11"><rect class="g" x="558" y="307" width="59" height="35"/><text class="s" font-size="2.5" text-anchor="start" style="text-anchor:start"><tspan x="560" y="313.2">Necesidad de un sentido</tspan><tspan x="560" dy="3.5">transformacional en las acciones y</tspan><tspan x="560" dy="3.5">en cuanto a los sectores productivos</tspan><tspan x="560" dy="3.5">para garantizar una mejor nutrición,</tspan><tspan x="560" dy="3.5">seguridad alimentaria, salud humana</tspan><tspan x="560" dy="3.5">y medios de vida sostenibles;</tspan><tspan x="560" dy="3.5">intensificar las medidas enfocadas en la</tspan><tspan x="560" dy="3.5">biodiversidad.</tspan></text></g>
<g id="c7-n12"><rect class="c" x="688" y="312" width="24" height="24"/><text class="s" font-size="2.1"><tspan x="700" y="317.7">Revisar como</tspan><tspan x="700" dy="2.8">se establece</tspan><tspan x="700" dy="2.8">el vínculo entre</tspan><tspan x="700" dy="2.8">biodiversidad y</tspan><tspan x="700" dy="2.8">cambio</tspan><tspan x="700" dy="2.8">climático</tspan></text></g>
<g id="c7-n13"><rect class="p" x="758" y="294" width="30" height="29"/><text class="s" font-size="2.1"><tspan x="773" y="303.4">Incluir las fases</tspan><tspan x="773" dy="2.9">de vinculación entre</tspan><tspan x="773" dy="2.9">el programa estatal</tspan><tspan x="773" dy="2.9">de cambio climático</tspan><tspan x="773" dy="2.9">y biodiversidad</tspan></text></g>
<g id="c7-n14"><rect class="c" x="652" y="338" width="16" height="16"/><text class="s" font-size="1.9"><tspan x="660" y="343">CDMX:</tspan><tspan x="660" dy="2.5">Incluir</tspan><tspan x="660" dy="2.5">riesgos</tspan><tspan x="660" dy="2.5">climáticos</tspan></text></g>
<g id="c7-n15"><rect class="c" x="559" y="348" width="35" height="34"/><text class="s" font-size="2.5"><tspan x="576.5" y="355.7">HUAMAS EDOMEX</tspan><tspan x="576.5" dy="3.4">TOLUCA: Desarrollar</tspan><tspan x="576.5" dy="3.4">en la línea base</tspan><tspan x="576.5" dy="3.4">los enfoques</tspan><tspan x="576.5" dy="3.4">con la biodiversidad</tspan><tspan x="576.5" dy="3.4">considerando la</tspan><tspan x="576.5" dy="3.4">huella</tspan></text></g>
<g id="c7-n16"><circle class="c" cx="627" cy="365" r="7"/><text class="s" font-size="1.8"><tspan x="627" y="364.4">AGS</tspan><tspan x="627" dy="2.3">Héctor</tspan></text></g>
<g id="c7-n17"><rect class="g" x="680" y="351" width="40" height="50"/><text class="s" font-size="3.7"><tspan x="700" y="356.5">Establecer</tspan><tspan x="700" dy="5.2">estrategias</tspan><tspan x="700" dy="5.2">comunitarias para</tspan><tspan x="700" dy="5.2">acciones de</tspan><tspan x="700" dy="5.2">salvamento de la</tspan><tspan x="700" dy="5.2">Biodiversidad (José</tspan><tspan x="700" dy="5.2">A. German, SBSCC,</tspan><tspan x="700" dy="5.2">Tabasco)</tspan></text></g>
<g id="c7-n18"><rect class="p" x="747" y="334" width="41" height="43"/><text class="s" font-size="2.6"><tspan x="767.5" y="343.8">Fortalecer el vínculo de</tspan><tspan x="767.5" dy="3.6">biodiversidad - cambio</tspan><tspan x="767.5" dy="3.6">climático en el diseño</tspan><tspan x="767.5" dy="3.6">de infraestructura</tspan><tspan x="767.5" dy="3.6">verde y conservación</tspan><tspan x="767.5" dy="3.6">de la biodiversidad</tspan><tspan x="767.5" dy="3.6">dentro de la zona</tspan><tspan x="767.5" dy="3.6">urbana.</tspan></text></g>
</g>

<g id="C8">
<text class="t" x="855" y="222" textLength="173" lengthAdjust="spacingAndGlyphs">C8: Participación social</text>
<text class="d"><tspan x="835" y="231.5" textLength="233">Generar espacios de participación social e incrementar las oportunidades para que la sociedad se informe y se integre en la</tspan><tspan x="835" y="235.5" textLength="225">toma de decisiones y en actividades relacionadas con el medio ambiente y la biodiversidad, promoviendo el reconocimiento</tspan><tspan x="835" y="239.5" textLength="153">responsable de las personas con la naturaleza (principalmente en poblaciones urbanas).</tspan></text>
<g id="c8-n1"><rect class="g" x="835" y="248" width="38" height="35"/><text class="s" font-size="2.4"><tspan x="854" y="254.8">Realizar y compartir</tspan><tspan x="854" dy="3.3">con los medios</tspan><tspan x="854" dy="3.3">material de difusión y</tspan><tspan x="854" dy="3.3">utilizar las redes</tspan><tspan x="854" dy="3.3">sociales y medios de</tspan><tspan x="854" dy="3.3">comunicación</tspan><tspan x="854" dy="3.3">(Agustín Gil</tspan><tspan x="854" dy="3.3">Guerrero) (Colima)</tspan></text></g>
<g id="c8-n2"><rect class="g" x="875" y="248" width="34" height="34"/><text class="s" font-size="2.1"><tspan x="892" y="255.2">Incluir la participación</tspan><tspan x="892" dy="3">social de las mujeres, los</tspan><tspan x="892" dy="3">jóvenes y pueblos</tspan><tspan x="892" dy="3">indígenas en la toma</tspan><tspan x="892" dy="3">de decisiones para</tspan><tspan x="892" dy="3">la conservación del</tspan><tspan x="892" dy="3">patrimonio natural y</tspan><tspan x="892" dy="3">cultural de los estados</tspan></text></g>
<g id="c8-n3"><rect class="g" x="922" y="248" width="31" height="36"/><text class="s" font-size="2.5"><tspan x="937.5" y="256.1">Más para</tspan><tspan x="937.5" dy="3.6">difundir y</tspan><tspan x="937.5" dy="3.6">apoyar la</tspan><tspan x="937.5" dy="3.6">formación de</tspan><tspan x="937.5" dy="3.6">liderazgos</tspan><tspan x="937.5" dy="3.6">sociales de</tspan><tspan x="937.5" dy="3.6">biodiversidad</tspan></text></g>
<g id="c8-n4"><circle class="g" cx="971" cy="262" r="15"/><text class="s" font-size="2"><tspan x="971" y="257.3">Impulsar</tspan><tspan x="971" dy="2.7">la educación</tspan><tspan x="971" dy="2.7">ambiental y la</tspan><tspan x="971" dy="2.7">cultura</tspan><tspan x="971" dy="2.7">ambiental. CDM</tspan></text></g>
<g id="c8-n5"><rect class="g" x="992" y="250" width="26" height="26"/><text class="s" font-size="2.2"><tspan x="1005" y="256.3">Crear consejos</tspan><tspan x="1005" dy="3">de participación</tspan><tspan x="1005" dy="3">ciudadana en</tspan><tspan x="1005" dy="3">temas de</tspan><tspan x="1005" dy="3">biodiversidad</tspan><tspan x="1005" dy="3">CAMP</tspan></text></g>
<g id="c8-n6"><rect class="c" x="1040" y="267" width="30" height="40"/><text class="s" font-size="2.6" style="text-anchor:start"><tspan x="1043" y="273">AGS Héctor Ávila:</tspan><tspan x="1043" dy="3.6">¿A qué se refiere</tspan><tspan x="1043" dy="3.6">"fomentando el</tspan><tspan x="1043" dy="3.6">reconocimiento</tspan><tspan x="1043" dy="3.6">responsable"? Yo</tspan><tspan x="1043" dy="3.6">lo cambiaría por</tspan><tspan x="1043" dy="3.6">"reconociendo la</tspan><tspan x="1043" dy="3.6">naturaleza".</tspan></text></g>
<g id="c8-n7"><rect class="c" x="917" y="280" width="16" height="16"/><text class="s" font-size="2"><tspan x="925" y="284.8">AGS</tspan><tspan x="925" dy="2.6">Héctor</tspan><tspan x="925" dy="2.6">Ávila:</tspan><tspan x="925" dy="2.6">sociedad</tspan></text></g>
<g id="c8-n8"><rect class="g" x="937" y="286" width="16" height="16"/><text class="s" font-size="1.9"><tspan x="945" y="291">Promover</tspan><tspan x="945" dy="2.5">la</tspan><tspan x="945" dy="2.5">participación</tspan><tspan x="945" dy="2.5">social</tspan></text></g>
<g id="c8-n9"><rect class="c" x="837" y="301" width="30" height="30"/><text class="s" font-size="2.1"><tspan x="852" y="308">MEX_KIDS: Impulsar</tspan><tspan x="852" dy="2.9">la participación de</tspan><tspan x="852" dy="2.9">la sociedad</tspan><tspan x="852" dy="2.9">en proyectos</tspan><tspan x="852" dy="2.9">de conservación</tspan><tspan x="852" dy="2.9">de la biodiversidad</tspan><tspan x="852" dy="2.9">(CIDACAN)</tspan></text></g>
<g id="c8-n10"><rect class="p" x="880" y="296" width="27" height="27"/><text class="s" font-size="2.1"><tspan x="893.5" y="303">Considerar al</tspan><tspan x="893.5" dy="2.9">sector privado</tspan><tspan x="893.5" dy="2.9">y organizaciones</tspan><tspan x="893.5" dy="2.9">de la sociedad</tspan><tspan x="893.5" dy="2.9">civil en la</tspan><tspan x="893.5" dy="2.9">toma de decisiones</tspan></text></g>
<g id="c8-n11"><rect class="c" x="944" y="305" width="38" height="38"/><text class="s" font-size="2.2"><tspan x="963" y="313.3">CDMX: PROMOVER</tspan><tspan x="963" dy="3.3">EL CONOCIMIENTO DE</tspan><tspan x="963" dy="3.3">LA SOCIEDAD SOBRE</tspan><tspan x="963" dy="3.3">LA BIODIVERSIDAD Y</tspan><tspan x="963" dy="3.3">LOS SERVICIOS</tspan><tspan x="963" dy="3.3">QUE BRINDA, así como</tspan><tspan x="963" dy="3.3">la educación ambiental</tspan><tspan x="963" dy="3.3">para todas las edades</tspan></text></g>
<g id="c8-n12"><rect class="c" x="992" y="297" width="39" height="38"/><text class="s" font-size="4.4"><tspan x="1011.5" y="304.3">AGS Héctor</tspan><tspan x="1011.5" dy="6.6">Ávila</tspan><tspan x="1011.5" dy="6.6">Agregar: "y</tspan><tspan x="1011.5" dy="6.6">sus servicios</tspan><tspan x="1011.5" dy="6.6">ambientales".</tspan></text></g>
<g id="c8-n13"><rect class="p" x="907" y="336" width="40" height="41"/><text class="s" font-size="2.5"><tspan x="927" y="341.8">Mich. Ricardo Luna:</tspan><tspan x="927" dy="3.9">fortalecer con los</tspan><tspan x="927" dy="3.9">consejos de</tspan><tspan x="927" dy="3.9">participación</tspan><tspan x="927" dy="3.9">ciudadana</tspan><tspan x="927" dy="3.9">el</tspan><tspan x="927" dy="3.9">conocimiento</tspan><tspan x="927" dy="3.9">con acción de</tspan><tspan x="927" dy="3.9">gobierno.</tspan></text></g>
</g>

<g id="C9">
<text class="t" x="52" y="416" textLength="145" lengthAdjust="spacingAndGlyphs">C9: Financiamiento</text>
<text class="d"><tspan x="18" y="424.5" textLength="229">Gestionar de manera efectiva el gasto público en materia de biodiversidad y generar soluciones financieras innovadoras,</tspan><tspan x="18" y="429.5" textLength="144">que contribuyan a incrementar la inversión pública y privada destinada a la conservación.</tspan></text>
<g id="c9-n1"><rect class="g" x="20" y="445" width="32" height="32"/><text class="s" font-size="2.5"><tspan x="36" y="451.7">Implementación de</tspan><tspan x="36" dy="3.4">fondos</tspan><tspan x="36" dy="3.4">ambientales</tspan><tspan x="36" dy="3.4">estatales en</tspan><tspan x="36" dy="3.4">materia de</tspan><tspan x="36" dy="3.4">biodiversidad.</tspan><tspan x="36" dy="3.4">CAMP</tspan></text></g>
<g id="c9-n2"><rect class="g" x="66" y="447" width="31" height="30"/><text class="s" font-size="2.1"><tspan x="81.5" y="452.2">Gestionar pagos</tspan><tspan x="81.5" dy="3">y esquemas de</tspan><tspan x="81.5" dy="3">cobro por</tspan><tspan x="81.5" dy="3">servicios ambientales</tspan><tspan x="81.5" dy="3">a nivel estatal</tspan><tspan x="81.5" dy="3">para financiar</tspan><tspan x="81.5" dy="3">proyectos de</tspan><tspan x="81.5" dy="3">biodiversidad (Colima)</tspan></text></g>
<g id="c9-n3"><rect class="g" x="101" y="438" width="38" height="47"/><text class="s" font-size="3"><tspan x="120" y="446.7">Fortalecer la operación</tspan><tspan x="120" dy="5.3">de organismos</tspan><tspan x="120" dy="5.3">financieros alternativos,</tspan><tspan x="120" dy="5.3">ajenos a los tiempos de</tspan><tspan x="120" dy="5.3">las administraciones</tspan><tspan x="120" dy="5.3">gubernamentales de los</tspan><tspan x="120" dy="5.3">presupuestos públicos.</tspan></text></g>
<g id="c9-n4"><rect class="cd" x="163" y="433" width="45" height="45"/><text class="s" font-size="3.6"><tspan x="185.5" y="442.8">GTO. Rodolfo:</tspan><tspan x="185.5" dy="5.6">complementar con</tspan><tspan x="185.5" dy="5.6">el apoyo efectivo de</tspan><tspan x="185.5" dy="5.6">las instancias</tspan><tspan x="185.5" dy="5.6">federales en el</tspan><tspan x="185.5" dy="5.6">acceso a los mismos</tspan></text></g>
<g id="c9-n5"><circle class="g" cx="35" cy="502" r="15"/><text class="s" font-size="2.2"><tspan x="35" y="494.1">Implementar</tspan><tspan x="35" dy="2.9">fondo</tspan><tspan x="35" dy="2.9">ambiental</tspan><tspan x="35" dy="2.9">para el apoyo</tspan><tspan x="35" dy="2.9">de proyectos</tspan><tspan x="35" dy="2.9">de</tspan><tspan x="35" dy="2.9">conservación</tspan></text></g>
<g id="c9-n6"><rect class="g" x="79" y="495" width="19" height="20"/><text class="s" font-size="2"><tspan x="88.5" y="504.4">HUAMAS:</tspan><tspan x="88.5" dy="2.6">Incentivos</tspan></text></g>
<g id="c9-n7"><polygon class="g" points="118,493 130,505 118,517 106,505"/><text class="s" font-size="2"><tspan x="118" y="503.1">Fondo</tspan><tspan x="118" dy="2.6">de</tspan><tspan x="118" dy="2.6">apoyo</tspan></text></g>
<g id="c9-n8"><circle class="c" cx="151" cy="502" r="8"/><text class="s" font-size="1.8"><tspan x="151" y="501.7">MEX_KIDS:</tspan><tspan x="151" dy="2.3">Fondos</tspan></text></g>
<g id="c9-n9"><rect class="c" x="213" y="472" width="40" height="40"/><text class="s" font-size="2.4"><tspan x="233" y="477.5">MOR. Mónica Mayor</tspan><tspan x="233" dy="3.4">financiamiento a la</tspan><tspan x="233" dy="3.4">conservación de la</tspan><tspan x="233" dy="3.4">biodiversidad y a</tspan><tspan x="233" dy="3.4">las áreas con</tspan><tspan x="233" dy="3.4">conservación,</tspan><tspan x="233" dy="3.4">centros de</tspan><tspan x="233" dy="3.4">investigación,</tspan><tspan x="233" dy="3.4">asociaciones y</tspan><tspan x="233" dy="3.4">fundaciones.</tspan></text></g>
<g id="c9-n10"><rect class="p" x="175" y="505" width="37" height="37"/><text class="s" font-size="2.2"><tspan x="193.5" y="511.1">Gestionar y promover un</tspan><tspan x="193.5" dy="3.3">modelo económico que</tspan><tspan x="193.5" dy="3.3">incentive la</tspan><tspan x="193.5" dy="3.3">conservación de la</tspan><tspan x="193.5" dy="3.3">biodiversidad y</tspan><tspan x="193.5" dy="3.3">mediante el</tspan><tspan x="193.5" dy="3.3">presupuesto a cada</tspan><tspan x="193.5" dy="3.3">orden de gobierno para</tspan><tspan x="193.5" dy="3.3">este fin</tspan></text></g>
<g id="c9-n11"><rect class="c" x="19" y="534" width="36" height="36"/><text class="s" font-size="2.4"><tspan x="37" y="540.6">Fortalecer el</tspan><tspan x="37" dy="3.5">conocimiento de</tspan><tspan x="37" dy="3.5">instrumentos de</tspan><tspan x="37" dy="3.5">inversión que</tspan><tspan x="37" dy="3.5">identifiquen las</tspan><tspan x="37" dy="3.5">oportunidades</tspan><tspan x="37" dy="3.5">financieras</tspan><tspan x="37" dy="3.5">(TLAX)</tspan></text></g>
<g id="c9-n12"><rect class="c" x="88" y="534" width="36" height="36"/><text class="s" font-size="2.3"><tspan x="106" y="542.3">CDMX tiene ... para la</tspan><tspan x="106" dy="3.5">conservación de los</tspan><tspan x="106" dy="3.5">ecosistemas y la</tspan><tspan x="106" dy="3.5">conservación de la</tspan><tspan x="106" dy="3.5">biodiversidad nativa</tspan><tspan x="106" dy="3.5">y el patrimonio</tspan><tspan x="106" dy="3.5">biocultural.</tspan></text></g>
<g id="c9-n13"><rect class="c" x="136" y="534" width="31" height="29"/><text class="s" font-size="2.2"><tspan x="151.5" y="541.3">MOR.Diana Luz:</tspan><tspan x="151.5" dy="3.2">Los estados</tspan><tspan x="151.5" dy="3.2">pueden contar</tspan><tspan x="151.5" dy="3.2">con un fondo para la</tspan><tspan x="151.5" dy="3.2">conservación de la</tspan><tspan x="151.5" dy="3.2">biodiversidad</tspan></text></g>
</g>

<g id="C10">
<text class="t" x="318" y="420" textLength="169" lengthAdjust="spacingAndGlyphs">C10: MGDB Post-2020</text>
<text class="d"><tspan x="282" y="428.5" textLength="228">Incrementar nuestra participación en todas las etapas del proceso del Marco Global de la Diversidad Biológica Posterior a</tspan><tspan x="282" y="433" textLength="208">2020: construcción, implementación, monitoreo, evaluación y reporte, en coordinación con el gobierno federal.</tspan></text>
<g id="c10-n1"><rect class="g" x="272" y="437" width="55" height="32"/><text class="s" font-size="2.8"><tspan x="299.5" y="443">Establecer mecanismos de</tspan><tspan x="299.5" dy="4.4">consulta con SEMARNAT y</tspan><tspan x="299.5" dy="4.4">SRE para compartir insumos</tspan><tspan x="299.5" dy="4.4">y posicionamientos sobre el</tspan><tspan x="299.5" dy="4.4">contenido del Marco (EVDV</tspan><tspan x="299.5" dy="4.4">SRE)</tspan></text></g>
<g id="c10-n2"><rect class="p" x="374" y="461" width="52" height="51"/><text class="s" font-size="3.1"><tspan x="400" y="469">Establecer en la Ley</tspan><tspan x="400" dy="5.3">General de vida</tspan><tspan x="400" dy="5.3">silvestre y/o</tspan><tspan x="400" dy="5.3">conservación ambiental</tspan><tspan x="400" dy="5.3">los planes estratégicos</tspan><tspan x="400" dy="5.3">de biodiversidad y</tspan><tspan x="400" dy="5.3">actualizarlo por la ley de</tspan><tspan x="400" dy="5.3">biodiversidad</tspan></text></g>
<g id="c10-n3"><circle class="c" cx="301" cy="500" r="19"/><text class="s" font-size="2.6"><tspan x="301" y="492.9">HUAMAS</tspan><tspan x="301" dy="4">TOLUCA:</tspan><tspan x="301" dy="4">ACCIONES</tspan><tspan x="301" dy="4">INCORPORAR</tspan><tspan x="301" dy="4">A MUNICIPIOS</tspan></text></g>
<g id="c10-n4"><circle class="c" cx="347" cy="488" r="8"/><text class="s" font-size="1.8"><tspan x="347" y="487.7">AGS</tspan><tspan x="347" dy="2.3">Héctor</tspan></text></g>
<g id="c10-n5"><rect class="cd" x="461" y="450" width="17" height="17"/><text class="s" font-size="1.8"><tspan x="469.5" y="455.5">GTO.</tspan><tspan x="469.5" dy="2.4">Rodolfo:</tspan><tspan x="469.5" dy="2.4">Fondo de</tspan><tspan x="469.5" dy="2.4">recursos</tspan></text></g>
</g>

<g id="C11">
<text class="t" x="627" y="419" textLength="126" lengthAdjust="spacingAndGlyphs">C11: Cooperación</text>
<text class="d"><tspan x="560" y="427.5" textLength="230">Compartir nuestras experiencias con gobiernos subnacionales, ciudades y autoridades locales de otras regiones, así como</tspan><tspan x="560" y="432.5">establecer y fortalecer redes de cooperación.</tspan></text>
<g id="c11-n1"><rect class="g" x="558" y="442" width="39" height="38"/><text class="s" font-size="2.2"><tspan x="577.5" y="447.8">Mejorar una</tspan><tspan x="577.5" dy="3.5">vinculación estratégica</tspan><tspan x="577.5" dy="3.5">a través de la Comisión</tspan><tspan x="577.5" dy="3.5">del Consejo Mexicano</tspan><tspan x="577.5" dy="3.5">del Marco Ecológico</tspan><tspan x="577.5" dy="3.5">del Medio (CONABIO)</tspan><tspan x="577.5" dy="3.5">Integrado con el</tspan><tspan x="577.5" dy="3.5">apoyo Ecuador y</tspan><tspan x="577.5" dy="3.5">por Ecuador. (Colima)</tspan></text></g>
<g id="c11-n2"><rect class="g" x="605" y="442" width="32" height="32"/><text class="s" font-size="2.3"><tspan x="621" y="449.2">Coordinación y las</tspan><tspan x="621" dy="3.2">gobiernos</tspan><tspan x="621" dy="3.2">subnacionales de</tspan><tspan x="621" dy="3.2">gestión y trabajo</tspan><tspan x="621" dy="3.2">colaborativo con</tspan><tspan x="621" dy="3.2">instancias</tspan><tspan x="621" dy="3.2">internacionales</tspan></text></g>
<g id="c11-n3"><rect class="g" x="642" y="444" width="35" height="34"/><text class="s" font-size="3.7"><tspan x="659" y="452">debe decir</tspan><tspan x="659" dy="6.4">"las redes de</tspan><tspan x="659" dy="6.4">cooperación</tspan><tspan x="659" dy="6.4">ya existentes"</tspan></text></g>
<g id="c11-n4"><rect class="g" x="668" y="458" width="12" height="15"/><text class="s" font-size="1.8"><tspan x="674" y="463.7">CDMX</tspan><tspan x="674" dy="2.4">tiene</tspan><tspan x="674" dy="2.4">redes</tspan></text></g>
<g id="c11-n5"><rect class="p" x="686" y="443" width="35" height="35"/><text class="s" font-size="3.4"><tspan x="703.5" y="448.7">Antonio N. L.</tspan><tspan x="703.5" dy="5.2">debe decir</tspan><tspan x="703.5" dy="5.2">establecer</tspan><tspan x="703.5" dy="5.2">nuevas redes y</tspan><tspan x="703.5" dy="5.2">fortalecer las</tspan><tspan x="703.5" dy="5.2">existentes</tspan></text></g>
<g id="c11-n6"><circle class="c" cx="577" cy="505" r="16"/><text class="s" font-size="2"><tspan x="577" y="498.7">CAMPECHE:</tspan><tspan x="577" dy="2.8">Fomentar el</tspan><tspan x="577" dy="2.8">intercambio</tspan><tspan x="577" dy="2.8">de experiencias</tspan><tspan x="577" dy="2.8">de cooperación</tspan><tspan x="577" dy="2.8">internacional</tspan></text></g>
<g id="c11-n7"><rect class="cd" x="646" y="498" width="21" height="20"/><text class="s" font-size="2.2"><tspan x="656.5" y="504.3">GTO.</tspan><tspan x="656.5" dy="3">Rodolfo:</tspan><tspan x="656.5" dy="3">Redes de</tspan><tspan x="656.5" dy="3">cooperación</tspan></text></g>
<g id="c11-n8"><rect class="c" x="677" y="492" width="25" height="26"/><text class="s" font-size="2"><tspan x="689.5" y="498.5">CDMX tiene que</tspan><tspan x="689.5" dy="2.9">fomentar la</tspan><tspan x="689.5" dy="2.9">cooperación en la</tspan><tspan x="689.5" dy="2.9">ciudad y</tspan><tspan x="689.5" dy="2.9">compartir las redes</tspan><tspan x="689.5" dy="2.9">de cooperación</tspan></text></g>
</g>

<g id="C12">
<g id="c12-n1"><rect class="cd" x="871" y="452" width="91" height="90"/><text class="s" font-size="3.4"><tspan x="916.5" y="458.5">GTO. Rodolfo: Propongo los siguientes</tspan><tspan x="916.5" dy="5.3">complementarios: 12. Fortalecer las</tspan><tspan x="916.5" dy="5.3">instituciones de inspección y vigilancia</tspan><tspan x="916.5" dy="5.3">subnacional y local y promover la</tspan><tspan x="916.5" dy="5.3">coordinación efectiva con las instancias</tspan><tspan x="916.5" dy="5.3">federales en la atención a denuncias y</tspan><tspan x="916.5" dy="5.3">delitos ambientales. 13. Incrementar las</tspan><tspan x="916.5" dy="5.3">actividades de sensibilización a todas las</tspan><tspan x="916.5" dy="5.3">esferas de la sociedad para aumentar su</tspan><tspan x="916.5" dy="5.3">compromiso en la conservación y</tspan><tspan x="916.5" dy="5.3">aprovechamiento sustentable de la</tspan><tspan x="916.5" dy="5.3">biodiversidad. 14. Promover la elaboración,</tspan><tspan x="916.5" dy="5.3">publicación e instrumentación de los</tspan><tspan x="916.5" dy="5.3">ordenamientos territoriales y la creación y</tspan><tspan x="916.5" dy="5.3">esquemas de conservación de espacios</tspan><tspan x="916.5" dy="5.3">protegidos a nivel local.</tspan></text></g>
<g id="c12-n2"><rect class="c" x="997" y="496" width="60" height="60"/><text class="s" font-size="2.9"><tspan x="1027" y="505.4">CDMX tiene No se nada sobre</tspan><tspan x="1027" dy="4.8">conservación de patrimonio</tspan><tspan x="1027" dy="4.8">biocultural, sobre</tspan><tspan x="1027" dy="4.8">agrobiodiversidad y</tspan><tspan x="1027" dy="4.8">agroecosistemas,</tspan><tspan x="1027" dy="4.8">polinizadores, sobre seguridad</tspan><tspan x="1027" dy="4.8">alimentaria y sobre el agua.</tspan><tspan x="1027" dy="4.8">Creo que en diferentes partes</tspan><tspan x="1027" dy="4.8">del borrador es importante</tspan><tspan x="1027" dy="4.8">referir a estos temas.</tspan></text></g>
</g>

<g id="connectors">
<line class="cn" x1="345" y1="250" x2="428" y2="328"/>
<line class="cn" x1="603" y1="236" x2="588" y2="287"/>
<line class="cn" x1="712" y1="228" x2="712" y2="269"/>
<line class="cn" x1="932" y1="243" x2="1000" y2="300"/>
</g>
</svg>
